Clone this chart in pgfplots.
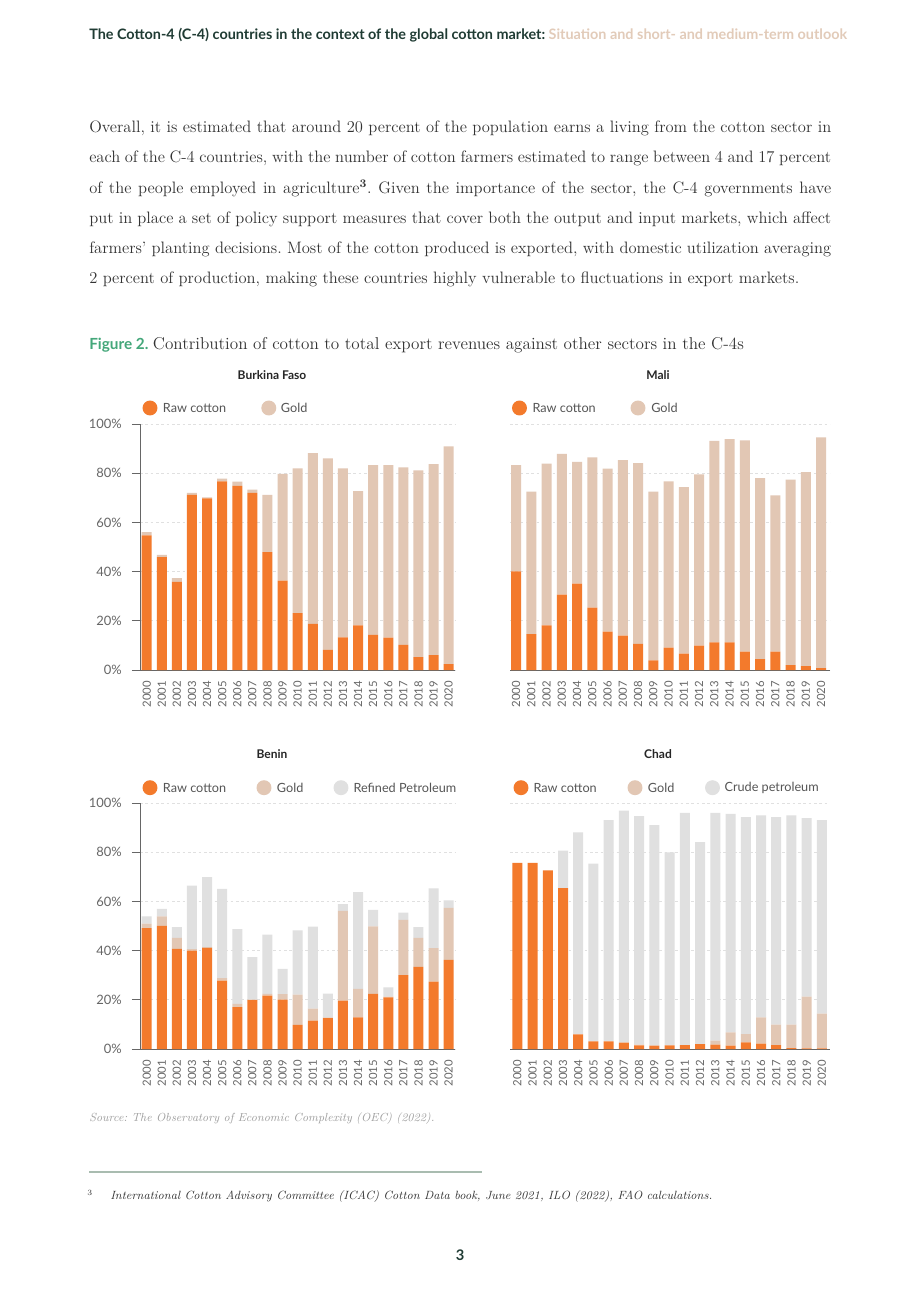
\documentclass[border=0pt]{standalone}
\usepackage{fontspec}
\usepackage{pgfplots}
\pgfplotsset{compat=1.18}
\newfontfamily\lato{Lato}
\definecolor{corange}{HTML}{F37A2C}
\definecolor{cgold}{HTML}{E2C7B4}
\definecolor{cpetro}{HTML}{E0E0E0}
\definecolor{cgreen}{HTML}{44A77A}
\definecolor{chead}{HTML}{1F3B33}
\definecolor{cbeige}{HTML}{E2CBB9}
\definecolor{cbody}{HTML}{333333}
\definecolor{cleg}{HTML}{555555}
\definecolor{ctick}{HTML}{666666}

\pgfplotsset{
  c4/.style={
    scale only axis, width=236.25pt, height=184.5pt,
    ybar stacked, bar width=7.5pt,
    ymin=0, ymax=100, enlargelimits=false,
    axis x line*=bottom, axis y line*=left,
    x axis line style={draw=ctick, line width=0.6pt, -},
    y axis line style={draw=ctick, line width=0.6pt, -},
    xtick={0,...,20},
    xticklabels={2000,2001,2002,2003,2004,2005,2006,2007,2008,2009,2010,2011,2012,2013,2014,2015,2016,2017,2018,2019,2020},
    xtick style={draw=none},
    xticklabel style={font=\lato\fontsize{8.5}{10}\selectfont, text=ctick, yshift=-2pt, rotate=90, anchor=east, inner sep=0pt},
    ytick={0,20,40,60,80,100},
    yticklabels={0\%,20\%,40\%,60\%,80\%,100\%},
    tick align=outside, major tick length=6pt,
    ytick style={draw=ctick, line width=0.6pt},
    yticklabel style={font=\lato\fontsize{9.7}{11}\selectfont, text=ctick, inner sep=0pt, xshift=-7.5pt},
    /pgf/number format/assume math mode=true,
    ymajorgrids, grid style={draw=black!12, dash pattern=on 2pt off 2pt, line width=0.5pt},
    every axis plot/.append style={draw=none},
  },
  noy/.style={y axis line style={draw=none}, ytick style={draw=none}, yticklabels={}},
}

\newcommand{\bodyfont}{\fontsize{12.4}{22.5}\selectfont}
\newcommand{\legfont}{\lato\fontsize{9.5}{11}\selectfont}

\begin{document}
\frenchspacing
\begin{tikzpicture}
\begin{scope}[x=0.75pt,y=-0.75pt]
\path[use as bounding box, fill=white] (0,0) rectangle (920,1302);
% header
\node[anchor=base west, inner sep=0, font=\lato\bfseries\fontsize{10.8}{12}\selectfont] at (89,39.5)
  {\textcolor{chead}{The Cotton-4 (C-4) countries in the context of the global cotton market:} \textcolor{cbeige}{Situation and short- and medium-term outlook}};
% paragraph
\begin{scope}[every node/.style={anchor=base west, inner sep=0, font=\bodyfont, text=cbody}]
\node at (89,133) {\makebox[556.5pt][s]{Overall, it is estimated that around 20 percent of the population earns a living from the cotton sector in}};
\node at (89,163) {\makebox[556.5pt][s]{each of the C-4 countries, with the number of cotton farmers estimated to range between 4 and 17 percent}};
\node at (89,193) {\makebox[556.5pt][s]{of the people employed in agriculture\textsuperscript{\bfseries 3}. Given the importance of the sector, the C-4 governments have}};
\node at (89,223) {\makebox[556.5pt][s]{put in place a set of policy support measures that cover both the output and input markets, which affect}};
\node at (89,253) {\makebox[556.5pt][s]{farmers' planting decisions. Most of the cotton produced is exported, with domestic utilization averaging}};
\node at (89,283) {2 percent of production, making these countries highly vulnerable to fluctuations in export markets.};
\end{scope}
% caption
\node[anchor=base west, inner sep=0] at (89,349)
  {{\lato\bfseries\fontsize{11.5}{13}\selectfont\color{cgreen}Figure 2.} {\fontsize{12.85}{14}\selectfont\color{cbody}Contribution of cotton to total export revenues against other sectors in the C-4s}};
% titles
\begin{scope}[every node/.style={inner sep=0, font=\lato\bfseries\fontsize{9}{11}\selectfont, text=black!85}]
\node at (272,375) {Burkina Faso};
\node at (658,375) {Mali};
\node at (272,754) {Benin};
\node at (658,754) {Chad};
\end{scope}
% legends
\begin{scope}[every node/.style={anchor=west, inner sep=0, font=\legfont, text=cleg}]
\fill[corange] (150,408) circle[radius=5.6pt]; \node at (162.7,408) {Raw cotton};
\fill[cgold] (268.8,408) circle[radius=5.6pt]; \node at (280.7,408) {Gold};
\fill[corange] (519.5,408) circle[radius=5.6pt]; \node at (532.3,408) {Raw cotton};
\fill[cgold] (638,408) circle[radius=5.6pt]; \node at (651,408) {Gold};
\fill[corange] (150,787.7) circle[radius=5.6pt]; \node at (162.7,787.7) {Raw cotton};
\fill[cgold] (264,787.7) circle[radius=5.6pt]; \node at (276.7,787.7) {Gold};
\fill[cpetro] (341,787.7) circle[radius=5.6pt]; \node at (353.3,787.7) {Refined Petroleum};
\fill[corange] (521,787.7) circle[radius=5.6pt]; \node at (533.3,787.7) {Raw cotton};
\fill[cgold] (635,787.7) circle[radius=5.6pt]; \node at (647.7,787.7) {Gold};
\fill[cpetro] (712.5,787.7) circle[radius=5.6pt]; \node at (724.3,787.7) {Crude petroleum};
\end{scope}
% source and footnote
\node[anchor=base west, inner sep=0, font=\itshape\fontsize{8.8}{11}\selectfont, text=black!38] at (89,1121)
  {Source: The Observatory of Economic Complexity (OEC) (2022).};
\draw[line width=0.9pt, draw={rgb,255:red,169;green,188;blue,176}] (89,1172) -- (482,1172);
\node[anchor=base west, inner sep=0, font=\fontsize{6}{7}\selectfont, text=cbody] at (87,1195) {3};
\node[anchor=base west, inner sep=0, font=\itshape\fontsize{8.95}{11}\selectfont, text=cbody] at (110,1199)
  {International Cotton Advisory Committee (ICAC) Cotton Data book, June 2021, ILO (2022), FAO calculations.};
\node[inner sep=0, font=\lato\bfseries\fontsize{11}{13}\selectfont, text=chead] at (460,1255) {3};
\end{scope}

% ---------------- Burkina Faso
\begin{axis}[c4, at={(105pt,-502.5pt)}, anchor=south west, xmin=-0.444, xmax=20.42]
\addplot[fill=corange] coordinates {(0,54.7)(1,45.9)(2,35.8)(3,71.2)(4,69.8)(5,76.7)(6,74.8)(7,72.0)(8,47.9)(9,36.3)(10,23.1)(11,18.8)(12,8.2)(13,13.3)(14,18.1)(15,14.3)(16,13.2)(17,10.2)(18,5.2)(19,6.0)(20,2.4)};
\addplot[fill=cgold] coordinates {(0,1.3)(1,0.9)(2,1.5)(3,0.8)(4,0.4)(5,1.1)(6,1.8)(7,1.3)(8,23.3)(9,43.4)(10,58.9)(11,69.4)(12,77.8)(13,68.7)(14,54.6)(15,69.0)(16,70.1)(17,72.2)(18,76.0)(19,77.7)(20,88.5)};
\end{axis}

% ---------------- Mali
\begin{axis}[c4, noy, at={(382.5pt,-502.5pt)}, anchor=south west, width=240pt, xmin=-0.393, xmax=20.59]
\addplot[fill=corange] coordinates {(0,40.1)(1,14.6)(2,18.1)(3,30.6)(4,35.1)(5,25.4)(6,15.6)(7,14.0)(8,10.6)(9,3.9)(10,9.1)(11,6.7)(12,9.9)(13,11.2)(14,11.2)(15,7.5)(16,4.4)(17,7.5)(18,2.0)(19,1.6)(20,0.8)};
\addplot[fill=cgold] coordinates {(0,43.2)(1,57.9)(2,65.8)(3,57.3)(4,49.5)(5,61.0)(6,66.3)(7,71.3)(8,73.5)(9,68.6)(10,67.6)(11,67.6)(12,69.6)(13,81.9)(14,82.7)(15,85.8)(16,73.6)(17,63.5)(18,75.4)(19,78.8)(20,93.8)};
\end{axis}

% ---------------- Benin
\begin{axis}[c4, at={(105pt,-786.75pt)}, anchor=south west, xmin=-0.444, xmax=20.42]
\addplot[fill=corange] coordinates {(0,49.1)(1,50.1)(2,40.7)(3,40.0)(4,41.1)(5,27.8)(6,17.0)(7,19.9)(8,21.7)(9,20.1)(10,9.8)(11,11.5)(12,12.6)(13,19.7)(14,12.9)(15,22.4)(16,21.0)(17,30.0)(18,33.4)(19,27.4)(20,36.2)};
\addplot[fill=cgold] coordinates {(0,1.9)(1,3.8)(2,4.5)(3,0.6)(4,0.3)(5,1.0)(6,1.3)(7,0.3)(8,0.7)(9,2.2)(10,12.3)(11,4.9)(12,0.3)(13,36.5)(14,11.5)(15,27.5)(16,0.3)(17,22.5)(18,11.8)(19,13.6)(20,21.2)};
\addplot[fill=cpetro] coordinates {(0,2.9)(1,3.1)(2,4.3)(3,25.8)(4,28.5)(5,36.3)(6,30.4)(7,17.2)(8,24.1)(9,10.3)(10,26.1)(11,33.4)(12,9.6)(13,2.7)(14,39.4)(15,6.7)(16,3.8)(17,2.9)(18,4.3)(19,24.3)(20,3.0)};
\end{axis}

% ---------------- Chad
\begin{axis}[c4, noy, at={(382.5pt,-786.75pt)}, anchor=south west, width=240pt, xmin=-0.48, xmax=20.53]
\addplot[fill=corange] coordinates {(0,75.7)(1,75.7)(2,72.6)(3,65.4)(4,6.0)(5,3.1)(6,3.1)(7,2.6)(8,1.5)(9,1.4)(10,1.5)(11,1.6)(12,2.0)(13,1.8)(14,1.4)(15,2.7)(16,2.2)(17,1.6)(18,0.4)(19,0.3)(20,0.3)};
\addplot[fill=cgold] coordinates {(0,0)(1,0)(2,0)(3,0)(4,0)(5,0)(6,0)(7,0)(8,0.3)(9,0)(10,0)(11,0)(12,0)(13,1.6)(14,5.4)(15,3.4)(16,10.7)(17,8.3)(18,9.5)(19,21.0)(20,14.1)};
\addplot[fill=cpetro] coordinates {(0,0)(1,0)(2,0)(3,15.2)(4,82.1)(5,72.3)(6,89.9)(7,94.3)(8,92.9)(9,89.6)(10,78.4)(11,94.4)(12,82.1)(13,92.6)(14,88.8)(15,88.2)(16,82.1)(17,84.4)(18,85.1)(19,72.6)(20,78.6)};
\end{axis}
\end{tikzpicture}
\end{document}
